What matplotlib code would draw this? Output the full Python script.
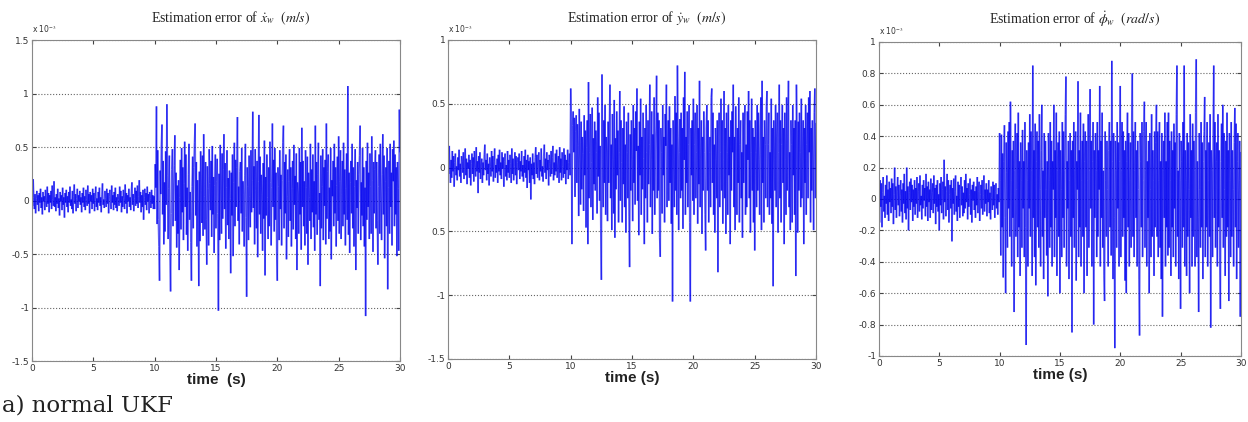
import numpy as np
import matplotlib
matplotlib.use("Agg")
import matplotlib.pyplot as plt
from matplotlib.collections import LineCollection

# estimation errors in units of 1e-3, one value every 0.05 s from 0 to 30 s
# (one row = one second)
err_x = [
    .12, -.05, .20, .03, -.08, .06, -.12, .02, .09, -.04, .05, -.10, .07, -.02, .11, -.07, .03, -.13, .08, -.01,
    .04, -.09, .10, .00, -.06, .13, -.03, .07, -.11, .05, -.02, .09, -.08, .14, .01, -.05, .18, -.06, .03, -.10,
    .06, -.03, .11, -.07, .02, -.14, .08, -.01, .05, -.09, .12, -.04, .03, -.16, .07, -.02, .10, -.06, .04, -.11,
    .08, -.02, .13, -.05, .01, -.08, .09, -.12, .04, .15, -.03, .06, -.10, .02, .11, -.07, .05, -.01, .09, -.04,
    .03, -.11, .07, -.02, .12, -.06, .04, -.09, .10, .01, -.05, .14, -.03, .06, -.12, .08, -.01, .05, -.08, .11,
    -.03, .07, -.10, .04, .13, -.06, .02, -.09, .08, -.02, .12, -.05, .03, -.11, .06, .16, -.04, .01, -.07, .09,
    .02, -.06, .11, -.03, .07, -.12, .04, .10, -.01, -.08, .14, -.02, .05, -.09, .08, -.04, .12, -.07, .03, -.10,
    .06, .01, -.05, .13, -.02, .09, -.11, .04, -.06, .10, .02, -.08, .15, -.03, .07, -.12, .05, -.01, .11, -.06,
    .03, -.09, .08, .17, -.04, .06, -.10, .02, .12, -.05, .09, -.03, .14, -.07, .04, .19, -.02, .08, -.11, .05,
    -.06, .10, -.18, .03, .11, -.04, .07, -.09, .13, -.01, .06, -.12, .08, .02, -.07, .10, -.03, .05, -.08, .04,
    -.08, .34, .12, .88, -.22, .47, -.18, -.43, -.75, .28, .06, .52, .71, -.13, .37, -.41, .17, -.29, .46, -.04,
    .90, .23, -.36, .11, .42, -.51, -.85, -.12, .29, .48, -.24, .07, .33, .61, -.19, .26, -.44, .14, -.31, .19,
    -.65, .03, .38, -.27, .49, -.11, .31, -.37, .16, .55, -.06, .43, -.32, .12, -.47, .24, .53, -.18, .08, -.39,
    -.75, .13, .41, -.26, .31, .54, .72, -.14, .36, -.43, .19, -.07, -.80, .27, -.38, .46, .09, -.21, .42, -.33,
    .62, .04, -.27, .36, -.18, -.60, .32, .11, -.42, .48, .16, -.09, .37, -.34, .51, -.13, .22, -.49, .14, .43,
    -.26, .18, .39, -.12, -1.03, .25, -.37, .52, .07, -.31, .44, -.17, .29, .62, -.08, .35, -.45, .12, .47, -.23,
    .21, -.36, .28, .02, -.68, .26, -.14, .43, -.52, .17, .54, -.24, .38, -.06, .31, .78, -.19, .13, -.41, .27,
    .36, -.12, .49, -.29, .18, .06, -.43, .23, .53, -.16, -.90, .31, .13, -.37, .42, .04, -.25, .47, -.11, .19,
    .83, -.07, .32, -.41, .48, .09, -.26, .37, -.53, .18, .80, -.13, .41, -.31, .24, .06, -.47, .35, -.17, .56,
    -.70, .22, -.14, .43, .03, -.36, .31, -.24, .55, .17, -.42, .12, .72, -.06, .38, -.29, .49, -.18, .26, -.48,
    -.75, .31, .13, -.37, .47, -.08, .24, -.42, .19, .54, .70, -.26, .36, -.12, .43, -.55, .04, .29, -.34, .18,
    .48, -.19, .31, -.43, .11, .37, -.27, .52, -.04, .23, -.36, .44, -.65, .17, .07, -.31, .49, -.13, .36, -.46,
    .68, -.06, .37, -.24, .18, -.42, .47, .12, -.31, .41, -.60, .26, .03, -.19, .53, -.36, .29, -.11, .43, -.25,
    .18, -.47, .70, -.13, .36, -.32, .24, .54, -.18, .07, -.80, .42, -.26, .13, .48, -.37, .31, -.05, .38, -.41,
    .72, -.17, .27, .43, -.36, .12, -.29, .49, -.55, .19, .04, .37, -.24, .53, -.12, .31, -.43, .14, .41, -.19,
    .60, -.31, .18, .47, -.36, .06, .37, -.24, .54, -.13, .29, -.42, .11, .44, -.18, 1.07, -.32, .26, -.49, .17,
    .37, -.12, .53, -.26, .31, -.43, .13, .48, -.65, .19, -.07, .36, -.31, .24, .42, .70, -.37, .17, -.14, .49,
    -.24, .31, -.43, .12, -1.08, .37, -.18, .54, -.06, .26, -.36, .44, .13, -.31, .60, .19, -.48, .36, -.12, .29,
    .47, -.26, .36, -.19, -.60, .13, .43, -.31, .53, .07, -.37, .24, .62, -.13, .42, -.54, .18, .31, -.24, .49,
    -.83, .12, .37, -.31, .53, -.06, .26, -.42, .48, .18, .56, -.24, .43, -.13, .31, -.52, .36, .11, -.47, .85,
    .45,
]

err_y = [
    .10, -.05, .17, .02, -.12, .06, -.08, .13, -.03, .09, -.15, .04, .11, -.06, .01, -.10, .08, -.02, .14, -.07,
    .03, -.12, .09, .05, -.04, .12, -.09, .02, .15, -.06, .07, -.13, .04, -.01, .10, -.08, .06, -.14, .03, .11,
    -.05, .08, -.11, .13, .00, -.07, .16, -.03, .05, -.20, .09, -.04, .12, -.09, .02, .07, -.12, .04, -.06, .10,
    .18, -.02, .06, -.10, .11, -.05, .03, -.14, .08, .01, -.07, .13, -.03, .09, -.11, .05, .15, -.08, .02, -.04,
    .07, -.12, .10, -.03, .14, -.06, .04, -.09, .12, -.01, .08, -.15, .05, .11, -.07, .02, -.10, .13, -.04, .06,
    -.08, .10, .03, -.12, .15, -.05, .07, -.10, .01, .12, -.06, .09, -.13, .04, .08, -.02, .11, -.09, .05, -.03,
    .13, -.07, .02, -.11, .09, -.04, .14, -.08, .06, -.16, .10, -.02, .05, -.12, .08, -.25, .03, -.06, .11, -.09,
    .04, -.13, .08, .16, -.05, .10, -.08, .02, .12, -.10, .06, -.03, .15, -.07, .01, -.11, .09, .18, -.04, .07,
    -.09, .12, -.02, .06, -.14, .10, .03, -.07, .13, -.05, .08, .17, -.10, .04, -.06, .11, -.03, .14, -.08, .02,
    .09, -.12, .16, -.04, .07, -.10, .12, .01, -.08, .15, -.05, .10, -.13, .06, -.02, .14, -.09, .04, .11, -.06,
    .62, .38, -.60, .33, .44, .12, .39, -.23, .28, .41, -.12, .34, .17, -.38, .46, .06, -.29, .36, -.17, .24,
    .11, -.34, .41, -.06, .29, -.47, .16, .37, -.60, .67, -.24, .12, .42, -.31, .04, .47, -.41, .23, -.13, .36,
    -.18, .29, .12, -.36, .55, -.07, .43, -.26, .17, -.48, -.88, .73, .06, -.31, .37, -.12, .49, -.37, .24, .13,
    -.42, .36, -.12, .31, .65, -.24, .18, -.49, .42, .06, -.36, .53, -.55, .23, -.17, .44, -.06, .29, -.43, .12,
    .60, -.26, .37, .04, -.43, .31, -.13, .48, -.31, .18, -.51, .36, .12, -.24, .43, -.38, -.78, .26, -.18, .37,
    .06, -.42, .49, -.12, .31, -.29, .44, .13, .62, -.26, .17, -.53, .36, -.06, .54, -.37, .24, -.17, .43, .07,
    -.60, .31, -.24, .49, .12, -.43, .37, -.13, .18, .65, -.31, .06, .44, -.52, .26, -.18, .55, -.37, .13, .31,
    .72, -.24, .43, -.18, .37, -.55, -.70, .31, .12, -.36, .49, -.06, .24, -.43, .42, .17, .65, -.31, .06, .37,
    -.26, .48, -.12, .31, -.44, .18, -1.05, .37, .06, -.31, .56, -.18, .43, -.37, .80, .24, -.49, .12, .38, -.24,
    .43, -.18, .31, -.48, .55, .06, .75, -.37, .24, -.12, .44, -.31, .18, .49, -.43, -1.05, .31, -.06, .37, -.26,
    .54, -.37, .18, .43, -.24, .12, .49, -.44, .31, -.13, .68, -.31, .06, .37, -.52, .24, -.18, .44, .12, -.37,
    -.65, .31, .49, -.18, .37, -.43, .12, .24, -.31, .55, .62, -.12, .43, -.37, .18, -.51, .31, .06, -.24, .37,
    -.82, .24, .43, -.31, .12, .54, -.18, .37, -.44, .06, .60, -.24, .31, -.52, .43, .12, -.37, .49, -.06, .24,
    -.60, .37, -.18, .44, .12, .65, -.31, .24, -.49, .48, .06, -.37, .31, -.12, .55, -.43, .18, .37, -.24, .12,
    -.55, .43, -.12, .31, .49, -.37, .18, -.31, .44, .06, .60, -.24, .37, -.51, .12, .54, -.18, .31, -.43, .24,
    -.65, .37, .12, -.31, .49, -.18, .43, .06, -.37, .31, .55, -.49, .68, -.12, .24, -.43, .37, .18, -.24, .48,
    .60, -.31, .18, .43, -.37, .12, -.24, .54, -.44, .31, -.93, .37, .06, -.18, .49, -.31, .24, .43, -.51, .12,
    .65, -.24, .37, -.43, .18, .49, -.12, .31, -.60, .43, .06, -.37, .55, -.18, .24, .68, -.31, .12, -.49, .37,
    .18, -.43, .49, -.06, .31, -.37, .37, -.85, .65, .24, -.51, .36, -.18, .43, .12, -.31, .54, -.24, .06, .37,
    -.60, .31, -.12, .49, -.37, .18, .43, -.24, .55, .12, .60, -.43, .31, -.18, .37, .06, -.49, .43, .62, -.24,
    .35,
]

err_phi = [
    .08, -.15, .12, -.05, .10, -.18, .04, .14, -.08, .02, -.12, .09, -.03, .15, -.10, .06, -.14, .11, -.02, .07,
    -.09, .13, -.05, .10, -.16, .03, .20, -.07, .08, -.12, .05, .14, -.04, .09, -.11, .02, .12, -.08, .06, -.15,
    .10, -.03, .16, -.09, .05, -.13, .20, -.06, .08, -.20, .04, .11, -.07, .13, -.02, .09, -.14, .06, -.05, .12,
    -.10, .07, -.03, .14, -.12, .05, .10, -.08, .15, -.04, .02, -.13, .09, -.06, .12, -.01, .07, -.11, .16, -.05,
    .08, -.14, .11, -.02, .06, -.12, .13, -.07, .04, .10, -.09, .15, -.03, .07, -.16, .09, -.05, .12, -.08, .03,
    -.20, .10, -.04, .14, -.09, .06, .11, -.13, .25, -.02, .08, -.11, .05, .16, -.07, .12, -.15, .03, .09, -.06,
    .12, -.27, .07, -.03, .13, -.10, .05, .15, -.08, .02, -.14, .11, -.05, .09, -.12, .06, .14, -.04, .08, -.11,
    .04, -.09, .12, -.06, .16, -.02, .07, -.13, .10, -.05, .03, .13, -.10, .06, -.15, .09, -.01, .11, -.07, .05,
    -.12, .08, -.04, .14, -.09, .05, .11, -.14, .03, .09, -.06, .12, -.10, .02, .15, -.08, .06, -.03, .10, -.11,
    .06, -.02, .12, -.09, .04, -.13, .08, .01, -.07, .11, -.04, .09, -.12, .05, .10, -.06, .03, -.10, .07, -.02,
    .42, .12, -.36, .41, -.18, .29, -.50, .24, .47, -.12, -.60, .36, .17, -.31, .43, -.06, .49, -.24, .62, .12,
    -.43, .31, -.12, .37, -.72, .18, .48, -.24, .06, .42, -.37, .55, -.18, .24, -.49, .36, .12, -.31, .44, -.06,
    .24, -.37, .49, -.18, -.93, .31, .12, -.43, .36, -.06, .54, -.24, .43, .18, -.49, .85, -.12, .31, -.37, .48,
    -.55, .24, .43, -.18, .37, -.31, .54, .06, -.43, .31, .60, -.24, .18, -.51, .42, -.12, .37, .06, -.36, .24,
    -.62, .42, .12, -.31, .49, -.18, .37, -.43, .24, .06, .60, -.37, .31, -.12, .55, -.49, .18, .36, -.24, .43,
    -.60, .31, .06, -.37, .49, -.12, .43, -.31, .18, .54, .78, -.43, .24, -.06, .37, -.51, .12, .42, -.24, .31,
    -.85, .37, -.12, .49, -.31, .18, .43, -.52, .24, .06, .75, -.37, .31, -.18, .55, -.43, .12, .37, -.24, .48,
    -.60, .24, .43, -.18, .37, -.49, .12, .54, -.31, .18, .70, -.06, .37, -.43, .24, .49, -.80, .31, -.12, .42,
    .18, -.37, .49, -.24, .31, .06, .72, -.43, .37, -.12, .55, -.31, .18, -.49, -.65, .43, .12, -.24, .37, .06,
    -.43, .31, .49, -.18, .37, -.36, .88, .24, -.51, .42, -.12, -.95, .37, .18, -.31, .49, -.06, .36, -.43, .24,
    .72, -.37, .18, .49, -.24, .43, -.12, .31, -.52, .37, -.60, .24, .55, -.18, .42, -.43, .12, .36, -.31, .49,
    .80, -.24, .43, -.37, .18, .49, -.12, .31, -.43, .37, .06, -.51, -.87, .42, .24, -.18, .49, -.37, .12, .43,
    .62, -.31, .18, .49, -.43, .24, -.12, .37, -.60, .42, .06, -.37, .54, -.24, .31, .12, -.49, .43, -.18, .36,
    .60, -.24, .43, -.37, .12, .49, -.31, .24, -.51, .42, -.75, .18, .37, -.12, .55, -.43, .24, -.18, .49, -.36,
    .55, -.31, .37, .12, -.49, .43, -.18, .31, -.37, .48, -.06, .36, -.43, .54, .85, -.24, .18, -.51, .42, .12,
    -.70, .37, .24, -.31, .49, -.18, .85, -.43, .31, .12, -.49, .42, -.24, .36, .06, -.60, .54, -.12, .31, -.43,
    .48, -.24, .37, .18, -.43, .55, .89, -.37, .24, -.12, -.72, .42, .06, -.31, .49, -.18, .36, -.51, .24, .43,
    .65, -.37, .31, -.18, .49, -.43, .12, .36, -.24, .54, -.82, .31, .18, -.37, .42, .85, -.12, .49, -.31, .24,
    .36, -.43, .54, -.18, .31, -.37, -.70, .24, .48, -.12, .60, -.31, .42, .06, -.49, .37, -.24, .55, -.18, .31,
    -.65, .42, .12, -.37, .49, -.24, .31, .06, -.43, .36, .58, -.18, .48, -.51, .24, .42, -.31, .12, .37, -.75,
    .30,
]

titles = [r"$\dot{x}_w$  $(m/s)$", r"$\dot{y}_w$  $(m/s)$", r"$\dot{\phi}_w$  $(rad/s)$"]
xlabels = ["time  (s)", "time (s)", "time (s)"]
x_ticks = [0, 5, 10, 15, 20, 25, 30]
y_ticks = [
    [1.5, 1, 0.5, 0, -0.5, -1, -1.5],
    [1, 0.5, 0, -0.5, -1, -1.5],
    [1, 0.8, 0.6, 0.4, 0.2, 0, -0.2, -0.4, -0.6, -0.8, -1],
]
y_ticklabels = [
    ["1.5", "1", "0.5", "0", "-0.5", "-1", "-1.5"],
    ["1", "0.5", "0", "0.5", "-1", "-1.5"],
    ["1", "0.8", "0.6", "0.4", "0.2", "0", "-0.2", "-0.4", "-0.6", "-0.8", "-1"],
]
y_limits = [(-1.5, 1.5), (-1.5, 1), (-1, 1)]

plt.rcParams["mathtext.fontset"] = "stix"

series = [err_x, err_y, err_phi]

fig = plt.figure(figsize=(12.48, 4.22), dpi=100)
boxes = [
    [0.0256, 0.1445, 0.2949, 0.7607],
    [0.3590, 0.1493, 0.2949, 0.7560],
    [0.7043, 0.1564, 0.2900, 0.7441],
]

for i in range(3):
    ax = fig.add_axes(boxes[i])
    time_s = np.linspace(0, 30, len(series[i]))
    pts = np.column_stack([time_s, series[i]])
    segs = np.stack([pts[:-1], pts[1:]], axis=1)
    # separate segments so overlaps darken, like the dense original trace
    ax.add_collection(LineCollection(segs, colors="#0000f0", linewidths=1.15, alpha=0.62))
    ax.set_xlim(0, 30)
    ax.set_ylim(*y_limits[i])
    ax.set_xticks(x_ticks)
    ax.set_yticks(y_ticks[i])
    ax.set_yticklabels(y_ticklabels[i])
    ax.tick_params(direction="in", top=True, right=True, length=3,
                   labelsize=6.5, pad=2, colors="#444444", labelcolor="#333333")
    ax.yaxis.grid(True, linestyle=":", color="#666666", lw=0.8)
    ax.set_axisbelow(True)
    for s in ax.spines.values():
        s.set_color("#888888")
        s.set_linewidth(0.8)
    ax.set_xlabel(xlabels[i], fontsize=11, fontweight="bold",
                  family="Liberation Sans", labelpad=0, color="#222222")
    ax.text(0.0, 1.015, r"x 10$^{-3}$", transform=ax.transAxes,
            fontsize=5.5, color="#333333", ha="left", va="bottom")
    ax.text(0.54, 1.04, "Estimation error of " + titles[i], transform=ax.transAxes,
            fontsize=10, family="Liberation Serif", ha="center", va="bottom",
            color="#222222")

fig.text(0.002, 0.04, "a) normal UKF", fontsize=16.5, family="DejaVu Serif",
         ha="left", va="center", color="#222222")

fig.savefig("out.png", dpi=100)
